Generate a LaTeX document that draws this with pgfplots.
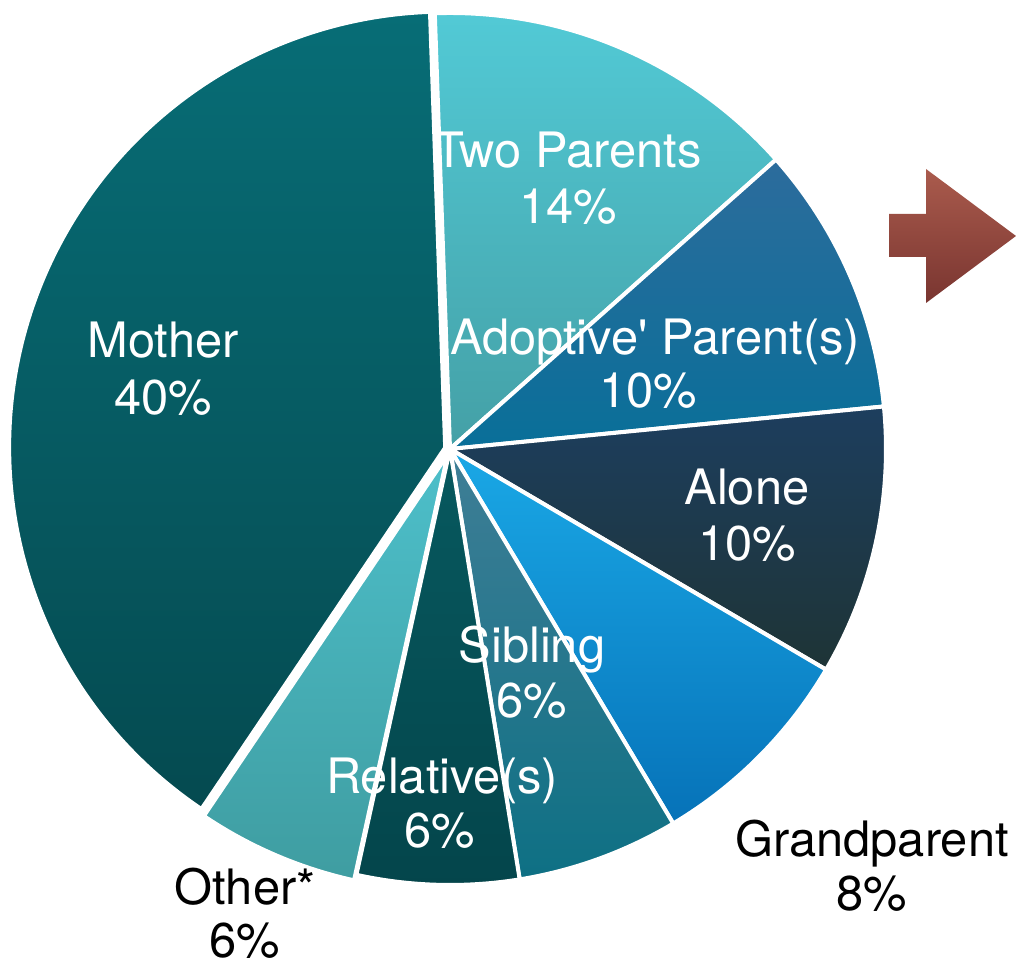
\documentclass[border=0pt]{standalone}
\usepackage{pgfplots}
\pgfplotsset{compat=1.18}
\usepackage{fontspec}
\setmainfont{TeX Gyre Heros}
\usetikzlibrary{calc}

\definecolor{tpT}{HTML}{52CAD6}\definecolor{tpB}{HTML}{44A0A6}
\definecolor{adT}{HTML}{2C6C9C}\definecolor{adB}{HTML}{096F99}
\definecolor{alT}{HTML}{1D3E5E}\definecolor{alB}{HTML}{1E3436}
\definecolor{grT}{HTML}{1AA8E6}\definecolor{grB}{HTML}{0672B8}
\definecolor{siT}{HTML}{3F7E96}\definecolor{siB}{HTML}{0E7084}
\definecolor{reT}{HTML}{07595F}\definecolor{reB}{HTML}{04454B}
\definecolor{otT}{HTML}{4DBFCA}\definecolor{otB}{HTML}{3F9DA1}
\definecolor{moT}{HTML}{076D76}\definecolor{moB}{HTML}{054A50}
\definecolor{arT}{HTML}{AA5B4D}\definecolor{arB}{HTML}{793530}

% #1 start angle, #2 percent, #3 top colour, #4 bottom colour, #5 explode direction, #6 explode distance
\newcommand{\slice}[6]{%
  \shadedraw[top color=#3, bottom color=#4, draw=white, line width=4bp, line join=round]
    ($(axis cs:450,520)+(#5:#6)$) -- ++(#1:436bp)
    arc[start angle=#1, delta angle=-3.6*#2, radius=436bp] -- cycle;}

\tikzset{lbl/.style={inner sep=0pt, anchor=base, font=\fontsize{49}{58}\selectfont}}

\begin{document}
\begin{tikzpicture}
\begin{axis}[width=1018bp, height=969bp, scale only axis,
  xmin=0, xmax=1018, ymin=0, ymax=969, hide axis, clip=false]
  \coordinate (SW) at (rel axis cs:0,0);
  \coordinate (NE) at (rel axis cs:1,1);
  % slices, clockwise from 92 degrees
  \slice{92}{14}{tpT}{tpB}{0}{0bp}        % Two Parents
  \slice{41.6}{10}{adT}{adB}{0}{0bp}      % Adoptive' Parent(s)
  \slice{5.6}{10}{alT}{alB}{0}{0bp}       % Alone
  \slice{-30.4}{8}{grT}{grB}{0}{0bp}      % Grandparent
  \slice{-59.2}{6}{siT}{siB}{0}{0bp}      % Sibling
  \slice{-80.8}{6}{reT}{reB}{0}{0bp}      % Relative(s)
  \slice{-102.4}{6}{otT}{otB}{-113}{6bp}  % Other*
  \slice{-124}{40}{moT}{moB}{164}{5bp}    % Mother
  % arrow
  \shade[top color=arT, bottom color=arB]
    (axis cs:889,755) -- (axis cs:926,755) -- (axis cs:926,800) -- (axis cs:1016,733)
    -- (axis cs:926,666) -- (axis cs:926,712) -- (axis cs:889,712) -- cycle;
  % labels
  \node[lbl, white] at (axis cs:568,801) {Two Parents};
  \node[lbl, white] at (axis cs:568,745) {14\%};
  \node[lbl, white] at (axis cs:655,614) {Adoptive\textquotesingle{} Parent(s)};
  \node[lbl, white] at (axis cs:648,561) {10\%};
  \node[lbl, white] at (axis cs:747,464) {Alone};
  \node[lbl, white] at (axis cs:747,408) {10\%};
  \node[lbl, white] at (axis cs:532,307) {Sibling};
  \node[lbl, white] at (axis cs:532,252) {6\%};
  \node[lbl, white] at (axis cs:442,176) {Relative(s)};
  \node[lbl, white] at (axis cs:440,122) {6\%};
  \node[lbl, white] at (axis cs:163,611) {Mother};
  \node[lbl, white] at (axis cs:163,554) {40\%};
  \node[lbl, black] at (axis cs:872,113) {Grandparent};
  \node[lbl, black] at (axis cs:872,59) {8\%};
  \node[lbl, black] at (axis cs:245,65) {Other*};
  \node[lbl, black] at (axis cs:245,12) {6\%};
\end{axis}
\pgfresetboundingbox
\useasboundingbox (SW) rectangle (NE);
\end{tikzpicture}
\end{document}
